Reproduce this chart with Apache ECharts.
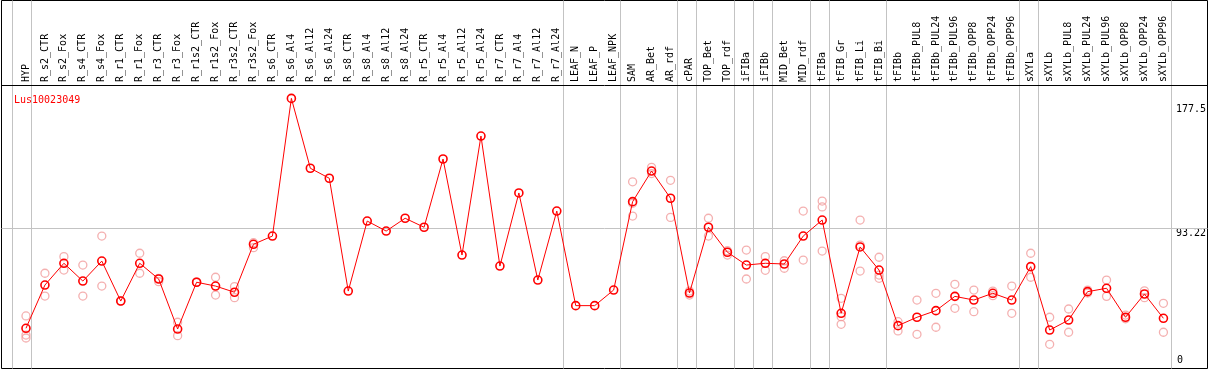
<!DOCTYPE html>
<html>
<head>
<meta charset="utf-8">
<script src="https://cdn.jsdelivr.net/npm/echarts@6/dist/echarts.min.js"></script>
<style>
html,body{margin:0;padding:0;background:#fff;}
#chart{width:1209px;height:370px;}
</style>
</head>
<body>
<div id="chart"></div>
<script>
// ---------- data ----------
const title = 'Lus10023049';
const categories = ['HYP','R_s2_CTR','R_s2_Fox','R_s4_CTR','R_s4_Fox','R_r1_CTR','R_r1_Fox','R_r3_CTR','R_r3_Fox','R_r1s2_CTR','R_r1s2_Fox','R_r3s2_CTR','R_r3s2_Fox','R_s6_CTR','R_s6_Al4','R_s6_Al12','R_s6_Al24','R_s8_CTR','R_s8_Al4','R_s8_Al12','R_s8_Al24','R_r5_CTR','R_r5_Al4','R_r5_Al12','R_r5_Al24','R_r7_CTR','R_r7_Al4','R_r7_Al12','R_r7_Al24','LEAF_N','LEAF_P','LEAF_NPK','SAM','AR_Bet','AR_rdf','cPAR','TOP_Bet','TOP_rdf','iFIBa','iFIBb','MID_Bet','MID_rdf','tFIBa','tFIB_Gr','tFIB_Li','tFIB_Bi','tFIBb','tFIBb_PUL8','tFIBb_PUL24','tFIBb_PUL96','tFIBb_OPP8','tFIBb_OPP24','tFIBb_OPP96','sXYLa','sXYLb','sXYLb_PUL8','sXYLb_PUL24','sXYLb_PUL96','sXYLb_OPP8','sXYLb_OPP24','sXYLb_OPP96'];
const meanValues = [25.3,54.7,69.5,57.4,71.0,43.8,69.5,58.8,24.8,56.6,54.0,49.8,82.4,88.0,181.6,134.1,127.3,50.6,98.2,91.4,100.1,94.0,140.4,75.1,156.0,67.6,117.3,58.1,105.0,40.7,40.7,51.3,111.4,132.2,113.7,49.3,94.0,77.0,68.3,69.5,69.0,88.0,98.9,35.5,80.6,64.9,27.1,32.8,37.3,47.0,44.5,49.1,44.5,67.2,24.1,30.9,50.2,52.5,32.8,48.6,32.1];
const rep1 = [33.7,62.7,74.0,68.3,88.0,43.8,76.3,59.3,29.4,56.6,60.0,53.6,80.1,null,null,null,null,null,null,null,null,null,null,null,null,null,null,null,null,null,null,null,124.9,134.7,125.9,47.9,100.1,78.0,78.5,74.0,71.2,105.0,111.8,45.7,98.9,73.6,29.8,44.5,49.1,55.2,51.3,50.6,54.0,76.3,32.8,38.4,51.3,58.1,34.3,50.8,42.3];
const rep2 = [20.7,47.2,64.9,47.2,54.0,43.8,62.7,57.0,20.3,56.6,47.9,46.1,83.5,null,null,null,null,null,null,null,null,null,null,null,null,null,null,null,null,null,null,null,101.6,130.5,100.7,50.6,88.0,75.1,58.8,64.7,66.1,71.7,107.8,33.2,81.9,61.5,23.5,21.2,26.0,38.9,36.6,47.5,35.5,60.0,14.4,22.6,49.3,47.0,31.8,46.1,22.6];
const rep3 = [18.7,null,null,null,null,null,null,null,null,null,null,null,null,null,null,null,null,null,null,null,null,null,null,null,null,null,null,null,null,null,null,null,110.3,null,null,null,null,null,null,null,null,null,77.8,28.0,64.2,59.3,null,null,null,null,null,null,null,null,null,null,null,null,null,null,null];
const topTickLabels = [93.22, 177.5];
const bottomTickLabels = [0];
const refLineValue = 93.22;
const groupEnds = [-1,0,28,31,34,35,37,38,39,41,42,45,52,53,60];

// ---------- layout ----------
const W = 1209, H = 370;
const GL = 16.5, GR = 33.5, GT = 85, GB = 4.5, YMAX = 190.7;
// frame grid (outer border) edges
const BL = 1.5, BR = 1.5, BT = 0.5, BB = 1.5;
const pxPerCat = (W - GL - GR) / categories.length;
const pxPerUnit = (H - GT - GB) / YMAX;
const SEP_OFFSET = 0.24;
const SHIFT = 5; // keeps the separator axis strictly positive
const FONT = 'DejaVu Sans Mono';
const grey = '#c3c3c3';

const fxMin = SHIFT - 0.5 - (GL - BL) / pxPerCat;
const fxMax = fxMin + (W - BL - BR) / pxPerCat;
const fyMin = (BB - GB) / pxPerUnit;
const fyMax = (H - GB - BT) / pxPerUnit;

const chart = echarts.init(document.getElementById('chart'), null, {renderer: 'canvas'});
const repStyle = {color: 'rgba(0,0,0,0)', borderColor: '#f19c9c', borderWidth: 1.3};
function repSeries(d) {
  return {type: 'scatter', xAxisIndex: 0, yAxisIndex: 0, data: d, symbol: 'circle', symbolSize: 8,
    itemStyle: repStyle, silent: true, z: 3};
}
chart.setOption({
  animation: false,
  backgroundColor: '#fff',
  title: {text: title, left: 9, top: 90, textStyle: {fontSize: 10, fontWeight: 'normal', color: '#ff0000', fontFamily: FONT}},
  grid: [
    {left: GL, right: GR, top: GT, bottom: GB},
    {left: BL, right: BR, top: BT, bottom: BB, show: true, borderColor: '#000', borderWidth: 1, backgroundColor: 'transparent'}
  ],
  xAxis: [
    {type: 'category', gridIndex: 0, data: categories, position: 'top', boundaryGap: true,
      axisLine: {show: false}, axisTick: {show: false}, splitLine: {show: false},
      axisLabel: {interval: 0, rotate: 90, margin: 3, fontSize: 10, fontFamily: FONT, color: '#000'}},
    {type: 'value', gridIndex: 1, min: fxMin, max: fxMax, show: false}
  ],
  yAxis: [
    {type: 'value', gridIndex: 0, min: 0, max: YMAX, position: 'right',
      axisLine: {show: false}, axisTick: {show: false}, splitLine: {show: false},
      axisLabel: {customValues: topTickLabels, verticalAlign: 'top', align: 'left', margin: 3,
        fontSize: 10, fontFamily: FONT, color: '#000', formatter: v => String(v)}},
    {type: 'value', gridIndex: 0, min: 0, max: YMAX, position: 'right',
      axisLine: {show: false}, axisTick: {show: false}, splitLine: {show: false},
      axisLabel: {customValues: bottomTickLabels, verticalAlign: 'bottom', align: 'left', margin: 4,
        fontSize: 10, fontFamily: FONT, color: '#000', formatter: v => String(v)}},
    {type: 'value', gridIndex: 1, min: fyMin, max: fyMax, show: false}
  ],
  series: [
    {type: 'custom', xAxisIndex: 1, yAxisIndex: 2, silent: true, z: 2, clip: false,
      data: groupEnds.map(k => [SHIFT + k + SEP_OFFSET]),
      encode: {x: 0},
      renderItem: function (params, api) {
        const x = Math.round(api.coord([api.value(0), 0])[0]) + 0.5;
        const cs = params.coordSys;
        return {type: 'line', shape: {x1: x, y1: cs.y, x2: x, y2: cs.y + cs.height},
          style: {stroke: grey, lineWidth: 1}};
      }},
    {type: 'scatter', xAxisIndex: 1, yAxisIndex: 2, data: [], silent: true, z: 2,
      markLine: {silent: true, symbol: 'none', label: {show: false}, animation: false,
        lineStyle: {color: grey, width: 1, type: 'solid'},
        data: [{yAxis: refLineValue}]}},
    repSeries(rep1), repSeries(rep2), repSeries(rep3),
    {type: 'line', xAxisIndex: 0, yAxisIndex: 0, data: meanValues, symbol: 'circle', symbolSize: 8,
      showAllSymbol: true, silent: true, z: 5,
      lineStyle: {color: '#ff0000', width: 1},
      itemStyle: {color: 'rgba(0,0,0,0)', borderColor: '#ff0000', borderWidth: 1.6}}
  ],
  graphic: [
    {type: 'line', silent: true, z: 100, shape: {x1: BL, y1: 85.5, x2: W - BR, y2: 85.5},
      style: {stroke: '#000', lineWidth: 1}}
  ]
});
</script>
</body>
</html>
